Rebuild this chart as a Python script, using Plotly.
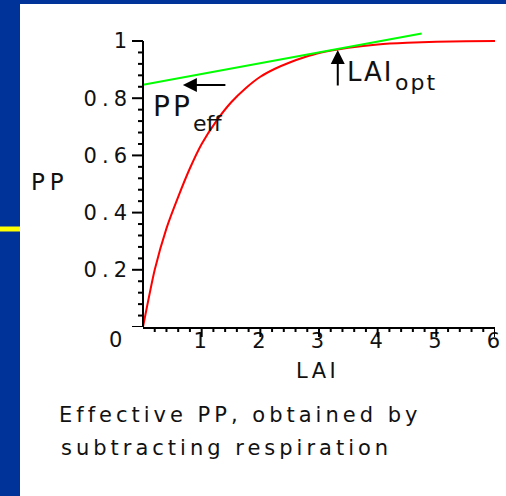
import plotly.graph_objects as go

# Primary production (fraction of maximum) against leaf area index
lai = [0, 0.2, 0.4, 0.6, 0.8, 1.0, 1.25, 1.5, 1.75, 2.0, 2.25, 2.5, 2.75, 3.0, 3.5, 4.0, 4.5, 5.0, 5.5, 6.0]
pp = [0, 0.20, 0.345, 0.455, 0.555, 0.64, 0.72, 0.785, 0.835, 0.875, 0.903, 0.925, 0.943, 0.958, 0.976, 0.988, 0.994, 0.997, 0.999, 1.0]

# Straight line touching the curve at the optimum LAI
tangent_lai = [0, 4.75]
tangent_pp = [0.847, 1.026]

# Annotation anchors (data units)
lai_opt = 3.32
lai_opt_arrow_pp = [0.839, 0.969]     # tail, tip
pp_eff_arrow_lai = [1.43, 0.68]       # tail, tip
pp_eff_level = 0.846

x_tickvals = [1, 2, 3, 4, 5, 6]
x_ticktext = ["1", "2", "3", "4", "5", "6"]
x_minorvals = [i / 5 for i in range(31) if i % 5]
y_tickvals = [0, 0.2, 0.4, 0.6, 0.8, 1]
y_ticktext = ["", "0.2", "0.4", "0.6", "0.8", "1"]
y_minorvals = [i / 25 for i in range(26) if i % 5]

W, H = 506, 496
ML, MR, MT, MB = 143, 11, 30, 169
Y_TOP = 1.0385
FONT = "DejaVu Sans"
INK = "#111111"
FRAME = "#003399"


def spaced(text, px):
    return f"<span style='letter-spacing:{px}px'>{text}</span>"


def paper_x(px):
    return (px - ML) / (W - ML - MR)


def paper_y(py):
    return (H - MB - py) / (H - MT - MB)


def label(x, y, text, size, xref="x", yref="y", xanchor="left"):
    return dict(x=x, y=y, xref=xref, yref=yref, xanchor=xanchor, yanchor="middle",
                text=text, showarrow=False, font=dict(family=FONT, size=size, color=INK))


def x_tick(v, length):
    # tick hanging below the LAI axis, sized in pixels
    return dict(type="line", xref="x", yref="paper", x0=v, x1=v,
                ysizemode="pixel", yanchor=0, y0=-1, y1=-length,
                line=dict(color="black", width=2))


def y_tick(v, length):
    # tick pointing left from the PP axis, sized in pixels
    return dict(type="line", xref="paper", yref="y", y0=v, y1=v,
                xsizemode="pixel", xanchor=0, x0=0, x1=-length,
                line=dict(color="black", width=2))


fig = go.Figure()

fig.add_trace(go.Scatter(
    x=lai, y=pp, mode="lines",
    line=dict(color="#ff0000", width=2, shape="spline", smoothing=0.6),
    hoverinfo="skip", showlegend=False,
))
fig.add_trace(go.Scatter(
    x=tangent_lai, y=tangent_pp, mode="lines",
    line=dict(color="#00ff00", width=2),
    hoverinfo="skip", showlegend=False,
))

shapes = [
    # blue slide frame: left band and thin top band
    dict(type="rect", xref="paper", yref="paper",
         x0=paper_x(-5), x1=paper_x(20), y0=paper_y(H + 5), y1=paper_y(-5),
         fillcolor=FRAME, line=dict(width=0), layer="below"),
    dict(type="rect", xref="paper", yref="paper",
         x0=paper_x(-5), x1=paper_x(W + 5), y0=paper_y(4), y1=paper_y(-5),
         fillcolor=FRAME, line=dict(width=0), layer="below"),
    # yellow accent bar on the frame
    dict(type="rect", xref="paper", yref="paper",
         x0=paper_x(-2), x1=paper_x(20), y0=paper_y(231.5), y1=paper_y(226.5),
         fillcolor="#ffff00", line=dict(width=0), layer="below"),
    # vertical axis, running from 0 up to 1
    dict(type="line", xref="paper", yref="y", x0=0, x1=0, y0=0, y1=1,
         line=dict(color="black", width=2)),
]
shapes += [x_tick(v, 10) for v in x_tickvals]
shapes += [x_tick(v, 5) for v in x_minorvals]
shapes += [y_tick(v, 11) for v in y_tickvals]
shapes += [y_tick(v, 5) for v in y_minorvals]

annotations = [
    # arrows
    dict(x=pp_eff_arrow_lai[1], y=pp_eff_level, ax=pp_eff_arrow_lai[0], ay=pp_eff_level,
         xref="x", yref="y", axref="x", ayref="y", text="", showarrow=True,
         arrowhead=2, arrowsize=1.4, arrowwidth=2, arrowcolor="black", standoff=0),
    dict(x=lai_opt, y=lai_opt_arrow_pp[1], ax=lai_opt, ay=lai_opt_arrow_pp[0],
         xref="x", yref="y", axref="x", ayref="y", text="", showarrow=True,
         arrowhead=2, arrowsize=1.4, arrowwidth=2, arrowcolor="black", standoff=0),
    # arrow labels, main text and subscript
    label(0.136, 0.771, spaced("PP", 3), 28),
    label(0.818, 0.713, "eff", 22),
    label(3.443, 0.890, spaced("LAI", 2), 26),
    label(4.261, 0.855, spaced("opt", 2), 22),
    # axis titles and origin label
    label(paper_x(29), paper_y(182), spaced("PP", 5), 23, "paper", "paper"),
    label(paper_x(317), paper_y(370.5), spaced("LAI", 3.5), 21, "paper", "paper", "center"),
    label(paper_x(115), paper_y(340), "0", 21, "paper", "paper", "center"),
    # caption
    label(paper_x(57), paper_y(414.5), spaced("Effective PP, obtained by", 4), 21, "paper", "paper"),
    label(paper_x(59), paper_y(447.5), spaced("subtracting respiration", 4), 21, "paper", "paper"),
]

axis_common = dict(
    showgrid=False, zeroline=False, ticks="", tickmode="array",
    tickfont=dict(family=FONT, size=21, color=INK),
    fixedrange=True, automargin=False,
)

fig.update_layout(
    width=W, height=H,
    margin=dict(l=ML, r=MR, t=MT, b=MB, pad=0),
    paper_bgcolor="white",
    plot_bgcolor="white",
    shapes=shapes,
    annotations=annotations,
    showlegend=False,
    xaxis=dict(
        range=[0, 6], showline=True, linecolor="black", linewidth=2,
        tickvals=x_tickvals,
        ticktext=[spaced(t, 3) for t in x_ticktext],
        ticklabelstandoff=-6,
        **axis_common,
    ),
    yaxis=dict(
        range=[0, Y_TOP], showline=False,
        tickvals=y_tickvals,
        ticktext=[spaced(t, 5) for t in y_ticktext],
        ticklabelstandoff=10,
        **axis_common,
    ),
)

fig.write_html("out.html", config={"displayModeBar": False})
